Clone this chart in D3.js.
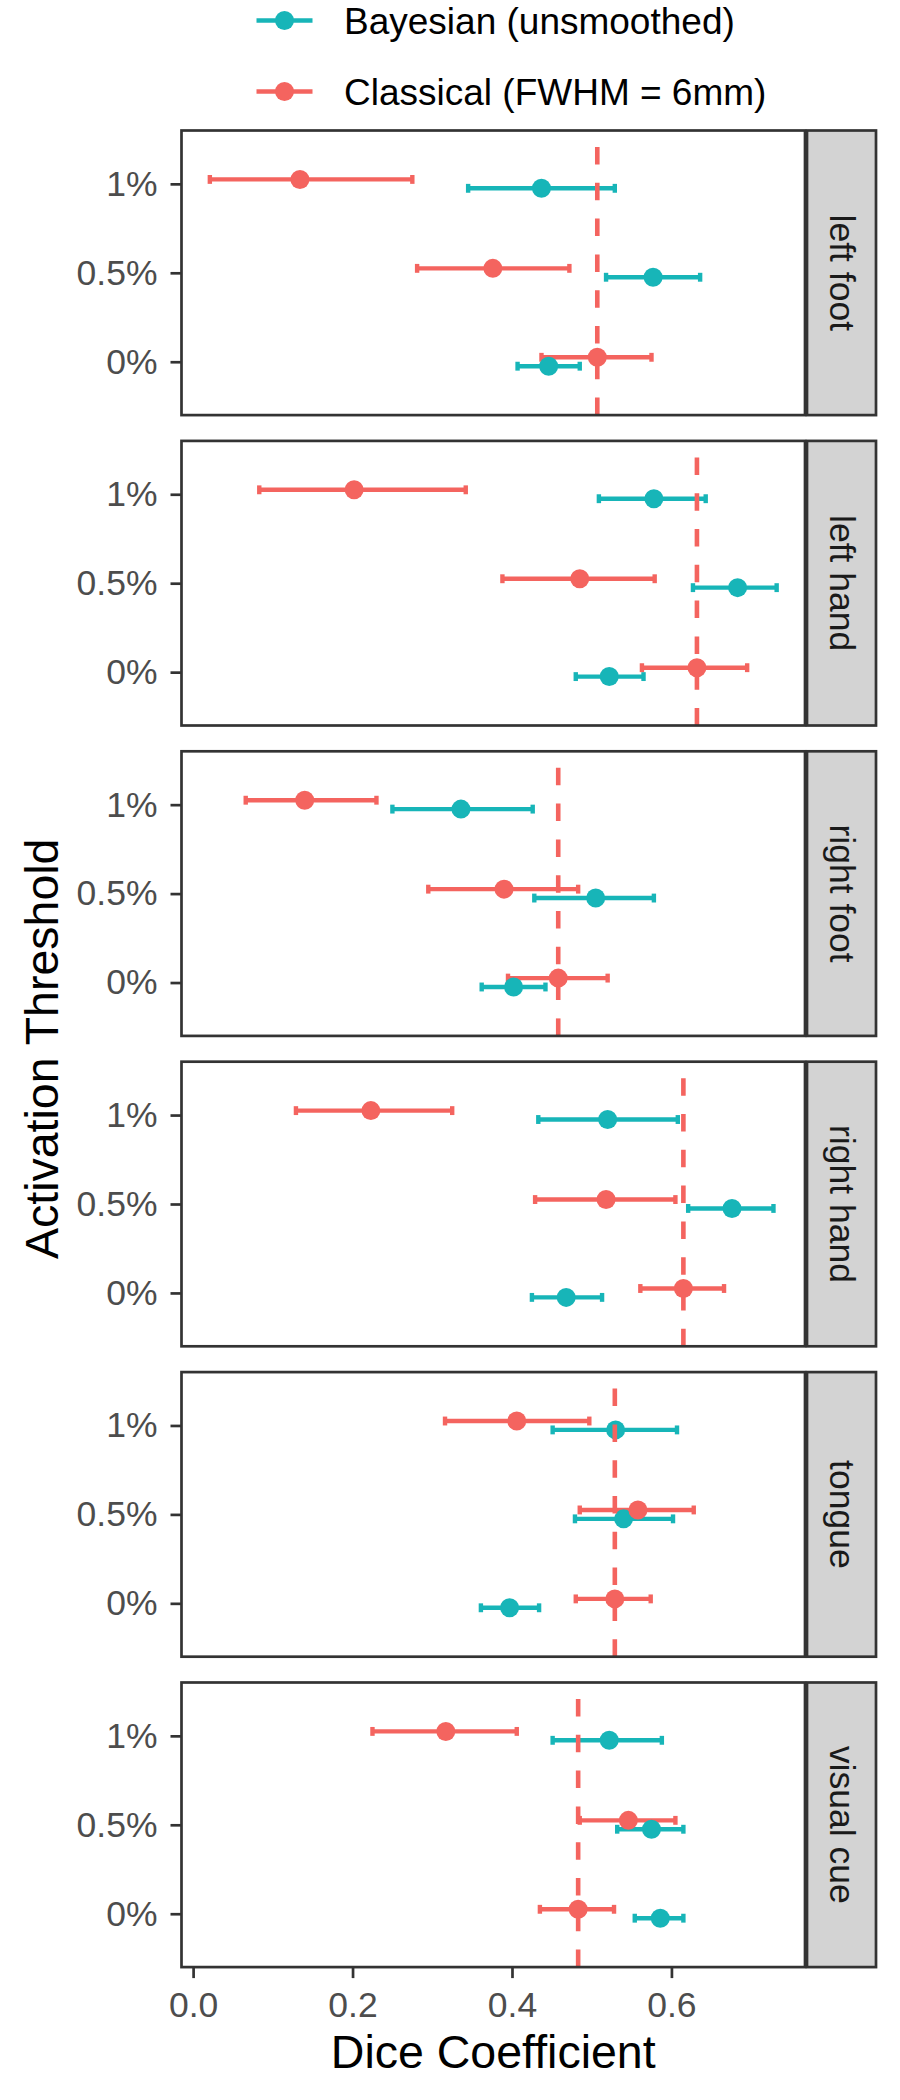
<!DOCTYPE html>
<html>
<head>
<meta charset="utf-8">
<script src="https://cdn.jsdelivr.net/npm/d3@7/dist/d3.min.js"></script>
<style>
  body { margin: 0; background: #fff; }
  text { font-family: "Liberation Sans", Arial, sans-serif; }
</style>
</head>
<body>
<div id="chart"></div>
<script>
// facets, thresholds (top to bottom inside a panel), methods
const tasks = ["left foot", "left hand", "right foot", "right hand", "tongue", "visual cue"];
const thresholds = ["1%", "0.5%", "0%"];
const methods = ["Bayesian (unsmoothed)", "Classical (FWHM = 6mm)"];
const xTicks = [0, 0.2, 0.4, 0.6];

// one row per task, columns follow thresholds
const bayesMean = [
  [0.437, 0.577, 0.446],
  [0.578, 0.683, 0.522],
  [0.336, 0.505, 0.402],
  [0.520, 0.676, 0.468],
  [0.530, 0.540, 0.397],
  [0.522, 0.575, 0.586]
];
const bayesLow = [
  [0.345, 0.518, 0.407],
  [0.509, 0.627, 0.480],
  [0.250, 0.428, 0.362],
  [0.433, 0.621, 0.425],
  [0.451, 0.479, 0.361],
  [0.451, 0.532, 0.554]
];
const bayesHigh = [
  [0.529, 0.636, 0.485],
  [0.643, 0.732, 0.565],
  [0.426, 0.578, 0.442],
  [0.608, 0.728, 0.513],
  [0.607, 0.602, 0.434],
  [0.588, 0.615, 0.615]
];
const classMean = [
  [0.134, 0.376, 0.507],
  [0.202, 0.485, 0.632],
  [0.140, 0.390, 0.458],
  [0.223, 0.518, 0.615],
  [0.406, 0.558, 0.529],
  [0.317, 0.546, 0.483]
];
const classLow = [
  [0.021, 0.281, 0.437],
  [0.083, 0.388, 0.563],
  [0.066, 0.295, 0.395],
  [0.129, 0.429, 0.561],
  [0.316, 0.485, 0.480],
  [0.225, 0.485, 0.435]
];
const classHigh = [
  [0.275, 0.472, 0.575],
  [0.342, 0.579, 0.695],
  [0.230, 0.483, 0.520],
  [0.325, 0.605, 0.666],
  [0.497, 0.628, 0.574],
  [0.406, 0.605, 0.528]
];

const width = 900;
const height = 2100;
const colors = { "Bayesian (unsmoothed)": "#17B5B8", "Classical (FWHM = 6mm)": "#F4645F" };
const dodge = { "Bayesian (unsmoothed)": 0.05, "Classical (FWHM = 6mm)": -0.05 };

const rows = [];
tasks.forEach((t, i) => {
  thresholds.forEach((th, j) => {
    rows.push({ task: t, thr: th, method: methods[0], mean: bayesMean[i][j], lo: bayesLow[i][j], hi: bayesHigh[i][j] });
    rows.push({ task: t, thr: th, method: methods[1], mean: classMean[i][j], lo: classLow[i][j], hi: classHigh[i][j] });
  });
});

const svg = d3.select("#chart").append("svg")
  .attr("width", width)
  .attr("height", height);

svg.append("rect").attr("width", width).attr("height", height).attr("fill", "#fff");

const left = 181.5, right = 805;

// ggplot-like 5% expansion
const lo = d3.min(rows, d => d.lo), hi = d3.max(rows, d => d.hi);
const pad = (hi - lo) * 0.05;
const x = d3.scaleLinear().domain([lo - pad, hi + pad]).range([left, right]);

const facet = d3.scaleBand()
  .domain(tasks)
  .range([130.5, 1967.1])
  .paddingInner(0.0831)
  .paddingOuter(0);

const ph = facet.bandwidth();

const y = d3.scalePoint()
  .domain(thresholds)
  .range([0, ph])
  .padding(0.6);
const step = y.step();

tasks.forEach((t, i) => {
  const g = svg.append("g").attr("transform", `translate(0,${facet(t)})`);
  const data = rows.filter(d => d.task === t);

  // y axis
  const ya = g.append("g")
    .attr("transform", `translate(${left},0)`)
    .call(d3.axisLeft(y).tickSize(11).tickPadding(13));
  ya.select(".domain").remove();
  ya.selectAll(".tick line").attr("stroke", "#333333").attr("stroke-width", 2.7);
  ya.selectAll(".tick text")
    .attr("fill", "#4D4D4D")
    .style("font-size", "35.5px")
    .style("font-family", "Liberation Sans, Arial, sans-serif");

  // error bars
  const eb = g.selectAll(".eb").data(data).enter().append("g")
    .attr("stroke", d => colors[d.method])
    .attr("stroke-width", 4.4);
  const yy = d => y(d.thr) + dodge[d.method] * step;
  eb.append("line")
    .attr("x1", d => x(d.lo)).attr("x2", d => x(d.hi))
    .attr("y1", yy).attr("y2", yy);
  eb.append("line")
    .attr("x1", d => x(d.lo)).attr("x2", d => x(d.lo))
    .attr("y1", d => yy(d) - 0.05 * step).attr("y2", d => yy(d) + 0.05 * step);
  eb.append("line")
    .attr("x1", d => x(d.hi)).attr("x2", d => x(d.hi))
    .attr("y1", d => yy(d) - 0.05 * step).attr("y2", d => yy(d) + 0.05 * step);

  // points
  g.selectAll(".pt").data(data).enter().append("circle")
    .attr("cx", d => x(d.mean))
    .attr("cy", yy)
    .attr("r", 9.5)
    .attr("fill", d => colors[d.method]);

  // reference line at classical 0%
  const ref = classMean[i][thresholds.indexOf("0%")];
  g.append("line")
    .attr("x1", x(ref)).attr("x2", x(ref))
    .attr("y1", ph).attr("y2", 0)
    .attr("stroke", colors[methods[1]])
    .attr("stroke-width", 4.6)
    .attr("stroke-dasharray", "17.5,18.3");

  // panel border
  g.append("rect")
    .attr("x", left).attr("y", 0)
    .attr("width", right - left).attr("height", ph)
    .attr("fill", "none")
    .attr("stroke", "#333333")
    .attr("stroke-width", 2.7);

  // strip
  g.append("rect")
    .attr("x", 807).attr("y", 0)
    .attr("width", 69).attr("height", ph)
    .attr("fill", "#D3D3D3")
    .attr("stroke", "#333333")
    .attr("stroke-width", 2.7);
  g.append("text")
    .attr("transform", `translate(841.5,${ph / 2}) rotate(90)`)
    .attr("text-anchor", "middle")
    .attr("dominant-baseline", "central")
    .attr("fill", "#1A1A1A")
    .style("font-size", "35.5px")
    .text(t);
});

// x axis under the last panel
const xa = svg.append("g")
  .attr("transform", `translate(0,${facet(tasks[tasks.length - 1]) + ph})`)
  .call(d3.axisBottom(x).tickValues(xTicks).tickFormat(d3.format(".1f")).tickSize(11).tickPadding(14));
xa.select(".domain").remove();
xa.selectAll(".tick line").attr("stroke", "#333333").attr("stroke-width", 2.7);
xa.selectAll(".tick text")
  .attr("fill", "#4D4D4D")
  .style("font-size", "35.5px")
  .style("font-family", "Liberation Sans, Arial, sans-serif");

// axis titles
svg.append("text")
  .attr("x", (left + right) / 2)
  .attr("y", 2068)
  .attr("text-anchor", "middle")
  .style("font-size", "46.5px")
  .text("Dice Coefficient");

svg.append("text")
  .attr("transform", `translate(58,${(130.5 + 1967.1) / 2}) rotate(-90)`)
  .attr("text-anchor", "middle")
  .style("font-size", "46.5px")
  .text("Activation Threshold");

// legend
const legend = svg.append("g");
const legY = d3.scalePoint().domain(methods).range([20.5, 91.5]);
methods.forEach(m => {
  const lg = legend.append("g").attr("transform", `translate(0,${legY(m)})`);
  lg.append("line")
    .attr("x1", 256.5).attr("x2", 312.5)
    .attr("stroke", colors[m]).attr("stroke-width", 4.4);
  lg.append("circle")
    .attr("cx", 284.5).attr("r", 9.5)
    .attr("fill", colors[m]);
  lg.append("text")
    .attr("x", 344)
    .attr("y", 13)
    .style("font-size", "37px")
    .text(m);
});
</script>
</body>
</html>
